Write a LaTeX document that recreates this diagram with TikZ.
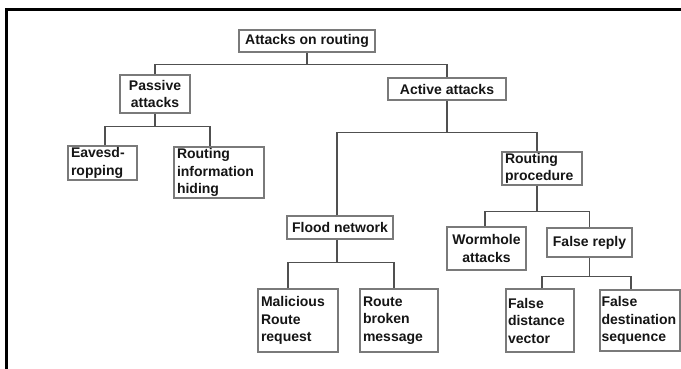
\documentclass[tikz,border=0pt]{standalone}
\usepackage{fontspec}
\setmainfont{Liberation Sans}
\definecolor{boxline}{HTML}{7A7A7A}
\definecolor{linkline}{HTML}{505050}
\definecolor{ink}{HTML}{151515}
\begin{document}
\begin{tikzpicture}[x=1pt,y=-1pt,
  box/.style={draw=boxline, line width=1.3pt, fill=white, text=ink,
    font=\bfseries\fontsize{14}{17.5}\selectfont, inner xsep=3pt, inner ysep=0pt,
    align=left, anchor=center},
  link/.style={draw=linkline, line width=1.1pt}]
  \useasboundingbox (0,0) rectangle (681,369);
  \clip (0,0) rectangle (681,369);
  % outer frame
  \draw[line width=3pt, black] (6,10) rectangle (720,400);

  % nodes
  \node[box, minimum width=136, minimum height=22, align=center] (root) at (307,41) {Attacks on routing};
  \node[box, minimum width=70, minimum height=38, align=center] (passive) at (155,94) {Passive\\attacks};
  \node[box, minimum width=118, minimum height=22, align=center] (active) at (447,89) {Active attacks};
  \node[box, minimum width=69, minimum height=34, text width=63] (eaves) at (102.5,163) {Eavesd-\\ropping};
  \node[box, minimum width=90, minimum height=51, text width=84] (hiding) at (219,172.5) {Routing\\information\\hiding};
  \node[box, minimum width=80, minimum height=33, text width=74] (proc) at (542,168.5) {Routing\\procedure};
  \node[box, minimum width=106, minimum height=23, align=center] (flood) at (340,227.5) {Flood network};
  \node[box, minimum width=79, minimum height=43, align=center] (worm) at (486.5,248.5) {Wormhole\\attacks};
  \node[box, minimum width=85, minimum height=29, align=center] (freply) at (589.5,242.5) {False reply};
  \node[box, minimum width=80, minimum height=63, text width=74] (mal) at (298,320.5) {Malicious\\Route\\request};
  \node[box, minimum width=78, minimum height=63, text width=72] (broken) at (399,320.5) {Route\\broken\\message};
  \node[box, minimum width=68, minimum height=63, text width=64, inner xsep=2pt] (fdv) at (540,320.5) {\raisebox{-6pt}{\parbox[b]{64pt}{False\\distance\\vector}}};
  \node[box, minimum width=80, minimum height=61, text width=77, inner xsep=1.5pt] (fds) at (640,320.5) {False\\destination\\sequence};

  % connectors
  \draw[link] (root.south) -- ++(0,12) coordinate (j1);
  \draw[link] (passive.north) |- (j1) -| (active.north);

  \draw[link] (passive.south) -- ++(0,13) coordinate (j2);
  \draw[link] ([xshift=2.5pt]eaves.north) |- (j2) -| ([xshift=-9pt]hiding.north);

  \draw[link] (active.south) -- ++(0,32) coordinate (j3);
  \draw[link] ([xshift=-3pt]flood.north) |- (j3) -| ([xshift=-5pt]proc.north);

  \draw[link] ([xshift=-5pt]proc.south) -- ++(0,26) coordinate (j4);
  \draw[link] ([xshift=-1.5pt]worm.north) |- (j4) -| (freply.north);

  \draw[link] ([xshift=-3pt]flood.south) -- ++(0,23) coordinate (j5);
  \draw[link] ([xshift=-10pt]mal.north) |- (j5) -| ([xshift=-5pt]broken.north);

  \draw[link] (freply.south) -- ++(0,19) coordinate (j6);
  \draw[link] ([xshift=2pt]fdv.north) |- (j6) -| ([xshift=-9pt]fds.north);
\end{tikzpicture}
\end{document}
